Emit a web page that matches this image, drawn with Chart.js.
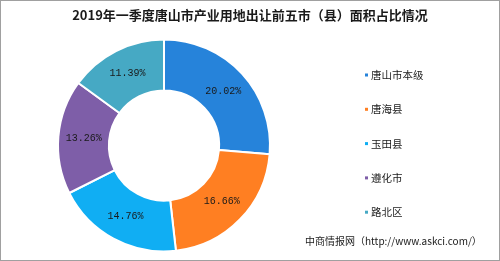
<!DOCTYPE html>
<html>
<head>
<meta charset="utf-8">
<script src="https://cdn.jsdelivr.net/npm/chart.js@4"></script>
<style>
  body { margin: 0; background: #fff; }
  #box { width: 498px; height: 259px; border: 1px solid #a0a0a0; position: relative; }
  canvas { display: block; }
</style>
</head>
<body>
<div id="box"><canvas id="grafico" width="498" height="259"></canvas></div>
<script>
const titulo = '2019年一季度唐山市产业用地出让前五市（县）面积占比情况';
const regioes = ['唐山市本级', '唐海县', '玉田县', '遵化市', '路北区'];
const areas = [20.02, 16.66, 14.76, 13.26, 11.39];
const cores = ['#2683da', '#ff7f22', '#10aef3', '#7e5ea8', '#46a9c4'];
const fonte = '中商情报网（http://www.askci.com/）';

// percent text inside each slice
const rotulos = {
  id: 'rotulos',
  afterDatasetsDraw(chart) {
    const ctx = chart.ctx;
    const meta = chart.getDatasetMeta(0);
    ctx.save();
    ctx.font = '10px "Liberation Mono", monospace';
    ctx.fillStyle = '#1a1a1a';
    ctx.textAlign = 'center';
    ctx.textBaseline = 'middle';
    meta.data.forEach((arc, i) => {
      const p = arc.tooltipPosition();
      ctx.fillText(areas[i].toFixed(2) + '%', p.x, p.y);
    });
    ctx.restore();
  }
};

// title, side legend and source line
const textos = {
  id: 'textos',
  afterDraw(chart) {
    const ctx = chart.ctx;
    ctx.save();
    ctx.fillStyle = '#1a1a1a';
    ctx.textAlign = 'center';
    ctx.textBaseline = 'middle';
    ctx.font = 'bold 13px "Noto Sans CJK SC", sans-serif';
    ctx.fillText(titulo, 249, 14);

    ctx.textAlign = 'left';
    ctx.font = '10.5px "Noto Sans CJK SC", sans-serif';
    regioes.forEach((r, i) => {
      const y = 74 + i * 34.3;
      ctx.fillStyle = cores[i];
      ctx.fillRect(364, y - 1.5, 3, 3);
      ctx.fillStyle = '#1a1a1a';
      ctx.fillText(r, 370, y);
    });

    ctx.font = '10px "Noto Sans CJK SC", sans-serif';
    ctx.fillText(fonte, 304, 240);
    ctx.restore();
  }
};

new Chart(document.getElementById('grafico'), {
  type: 'doughnut',
  data: {
    labels: regioes,
    datasets: [{
      data: areas,
      backgroundColor: cores,
      borderColor: '#ffffff',
      borderWidth: 2
    }]
  },
  options: {
    responsive: false,
    animation: false,
    cutout: '52%',
    layout: {
      padding: { left: 56, right: 228, top: 37, bottom: 7 }
    },
    plugins: {
      legend: { display: false },
      tooltip: { enabled: false }
    }
  },
  plugins: [rotulos, textos]
});
</script>
</body>
</html>
